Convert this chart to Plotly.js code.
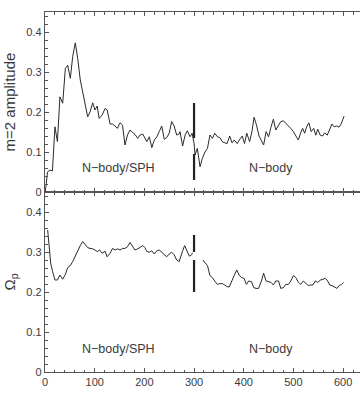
<!DOCTYPE html>
<html>
<head>
<meta charset="utf-8">
<script src="https://cdn.plot.ly/plotly-3.0.1.min.js"></script>
<style>html,body{margin:0;padding:0;background:#fff;}#plot{width:360px;height:395px;}</style>
</head>
<body>
<div id="plot"></div>
<script>
// Top panel: m=2 amplitude vs time
var ampTime = [0,2,5,10,15,20,25,30,35.6,41,45.6,51,55.7,61,65.8,71,75.9,81,85.9,90.6,96,100.7,105,109,115,121,125,131,136,141,145.6,151,156,161,166,171,177,181,186.6,191,196.6,201,205,210,215,220,225,230,235,240,245,250,255,260,265,270,271.8,277,282,286.5,292,296,300,302,306.6,312,316.7,322,327,332,337,341.6,347,352,356.6,362,366.5,371.8,376.5,381,386.7,391,397,401.6,406,411.8,416.5,420.8,425.5,430.8,435.5,440,445,450,455,459.7,464.5,470,474.5,480,484.6,490,494.6,500,505,510,514.6,518.6,522.6,526.6,531,535.8,541,545,549,554,558.6,563,568,573,577.6,582,587,591.6,596,602];
var ampValue = [0,0.014,0.05,0.055,0.053,0.163,0.126,0.238,0.222,0.309,0.317,0.284,0.338,0.373,0.334,0.28,0.25,0.213,0.188,0.2,0.223,0.205,0.215,0.184,0.1925,0.209,0.205,0.17,0.17,0.165,0.159,0.173,0.167,0.1175,0.1425,0.155,0.149,0.144,0.134,0.142,0.145,0.134,0.126,0.138,0.111,0.13,0.138,0.151,0.165,0.132,0.136,0.147,0.176,0.165,0.1425,0.145,0.151,0.115,0.1425,0.153,0.138,0.147,0.122,0.0925,0.109,0.063,0.084,0.10,0.109,0.1425,0.134,0.147,0.138,0.136,0.126,0.123,0.121,0.14,0.123,0.13,0.121,0.13,0.14,0.121,0.147,0.126,0.151,0.187,0.168,0.14,0.13,0.1175,0.151,0.138,0.163,0.182,0.155,0.168,0.176,0.178,0.173,0.165,0.159,0.151,0.14,0.13,0.148,0.159,0.147,0.163,0.173,0.151,0.159,0.142,0.157,0.142,0.14,0.148,0.142,0.155,0.17,0.163,0.165,0.162,0.17,0.19];

// Bottom panel: pattern speed vs time (gap around the restart)
var omegaTime = [5.4,8.7,11.4,15.4,20,25,30,35.6,41,45.6,51,55.7,61,65.8,71,75.9,81,86,90.6,96,100.7,105,110,115,121,125,131,136,141,146,151,156,161,166,171,177,181,187,191,197,201,205,210,215,220,225,230,235,240,245,250,255,260,265,270,271.8,276.5,281,285.8,290.5,295,297,null,317.5,322,327,332,337,341.6,347,351.6,356.6,362,366.5,371,376,381,386,390.8,396,400.7,405.4,410,415.5,420,424.8,430,435.5,440,445,450,455,459.7,464.5,470,474.5,480,484.6,490,494.6,500,505,510,514.6,520,524.6,530,534.6,539.3,544,549,554,558.6,564,568,573,577.6,583,587.6,592,597,601];
var omegaValue = [0.355,0.297,0.272,0.251,0.23,0.23,0.2425,0.232,0.244,0.261,0.266,0.276,0.291,0.3025,0.316,0.326,0.319,0.311,0.309,0.308,0.305,0.301,0.305,0.297,0.302,0.288,0.297,0.309,0.305,0.308,0.305,0.309,0.309,0.313,0.324,0.313,0.305,0.308,0.312,0.316,0.311,0.301,0.2995,0.303,0.295,0.303,0.305,0.2995,0.295,0.288,0.295,0.2995,0.293,0.28,0.276,0.284,0.301,0.316,0.302,0.2895,0.293,0.298,null,0.28,0.272,0.266,0.241,0.236,0.2275,0.219,0.221,0.221,0.2175,0.213,0.213,0.2295,0.242,0.255,0.242,0.236,0.234,0.219,0.2275,0.226,0.211,0.209,0.209,0.2275,0.247,0.2275,0.226,0.224,0.2175,0.2275,0.2275,0.209,0.211,0.219,0.219,0.2275,0.241,0.236,0.224,0.219,0.2275,0.221,0.216,0.2175,0.2175,0.2275,0.224,0.2295,0.232,0.234,0.2295,0.2175,0.216,0.211,0.209,0.216,0.219,0.224];

// Switch marker at t=300 (gas removed): broken vertical bars
var switchTime = [300,300,null,300,300];
var switchAmp = [0.2225,0.135,null,0.095,0.03];
var switchOmega = [0.3425,0.30,null,0.28,0.20];

var xTicks = [0,100,200,300,400,500,600];
var yTicks = [0,0.1,0.2,0.3,0.4];
var yTickText = ['0','0.1','0.2','0.3','0.4'];
var phaseLabels = ['N\u2212body/SPH','N\u2212body'];
var phaseLabelTime = [147,455];

var FONT = 'Liberation Sans, Arial, sans-serif';
var LINE = '#2a2a2a';
var AXC = '#555555';
var TXT = '#3a3a3a';

var traces = [
  {x: ampTime, y: ampValue, xaxis:'x2', yaxis:'y', mode:'lines', line:{color:LINE, width:1}, hoverinfo:'skip'},
  {x: switchTime, y: switchAmp, xaxis:'x2', yaxis:'y', mode:'lines', line:{color:'#222', width:2.2}, hoverinfo:'skip'},
  {x: omegaTime, y: omegaValue, xaxis:'x', yaxis:'y2', mode:'lines', connectgaps:false, line:{color:LINE, width:1}, hoverinfo:'skip'},
  {x: switchTime, y: switchOmega, xaxis:'x', yaxis:'y2', mode:'lines', line:{color:'#222', width:2.2}, hoverinfo:'skip'}
];

function xAxis(anchor, showLabels){
  return {
    anchor: anchor, range:[0,634], domain:[0,1],
    tickmode:'array', tickvals: xTicks, ticktext: xTicks.map(String),
    showticklabels: showLabels,
    ticks:'inside', ticklen:4, tickwidth:1, tickcolor:AXC,
    minor:{dtick:20, ticks:'inside', ticklen:2.5, tickwidth:1, tickcolor:AXC},
    showline:true, linecolor:AXC, linewidth:1.2, mirror:'ticks',
    showgrid:false, zeroline:false,
    tickfont:{family:FONT, size:11, color:TXT}
  };
}
function yAxis(anchor, domain, title){
  return {
    anchor: anchor, domain: domain, range:[0,0.45],
    tickmode:'array', tickvals: yTicks, ticktext: yTickText,
    ticks:'inside', ticklen:4, tickwidth:1, tickcolor:AXC,
    minor:{dtick:0.02, ticks:'inside', ticklen:2.5, tickwidth:1, tickcolor:AXC},
    showline:true, linecolor:AXC, linewidth:1.2,
    showgrid:false, zeroline:false,
    tickfont:{family:FONT, size:11, color:TXT},
    title:{text:title, font:{family:FONT, size:15, color:TXT}, standoff:7}
  };
}

var annotations = [];
phaseLabels.forEach(function(t,i){
  annotations.push({x: phaseLabelTime[i], y: 0.06, xref:'x2', yref:'y', text:t, showarrow:false,
    font:{family:FONT, size:12.5, color:TXT}});
  annotations.push({x: phaseLabelTime[i], y: 0.0575, xref:'x', yref:'y2', text:t, showarrow:false,
    font:{family:FONT, size:12.5, color:TXT}});
});
annotations.push({x:0.565, y:-0.048, xref:'paper', yref:'paper', text:'\u03c4', showarrow:false,
  yanchor:'top', font:{family:FONT, size:14, color:TXT}});

var layout = {
  width:360, height:395,
  margin:{l:45, r:0, t:12, b:23, pad:0},
  paper_bgcolor:'#fff', plot_bgcolor:'#fff',
  showlegend:false,
  xaxis: xAxis('y2', true),
  xaxis2: xAxis('y', false),
  yaxis: yAxis('x2', [0.5,1], 'm=2 amplitude'),
  yaxis2: yAxis('x', [0,0.5], '\u03a9<sub>p</sub>'),
  annotations: annotations
};

Plotly.newPlot('plot', traces, layout, {staticPlot:true, displayModeBar:false});
</script>
</body>
</html>
